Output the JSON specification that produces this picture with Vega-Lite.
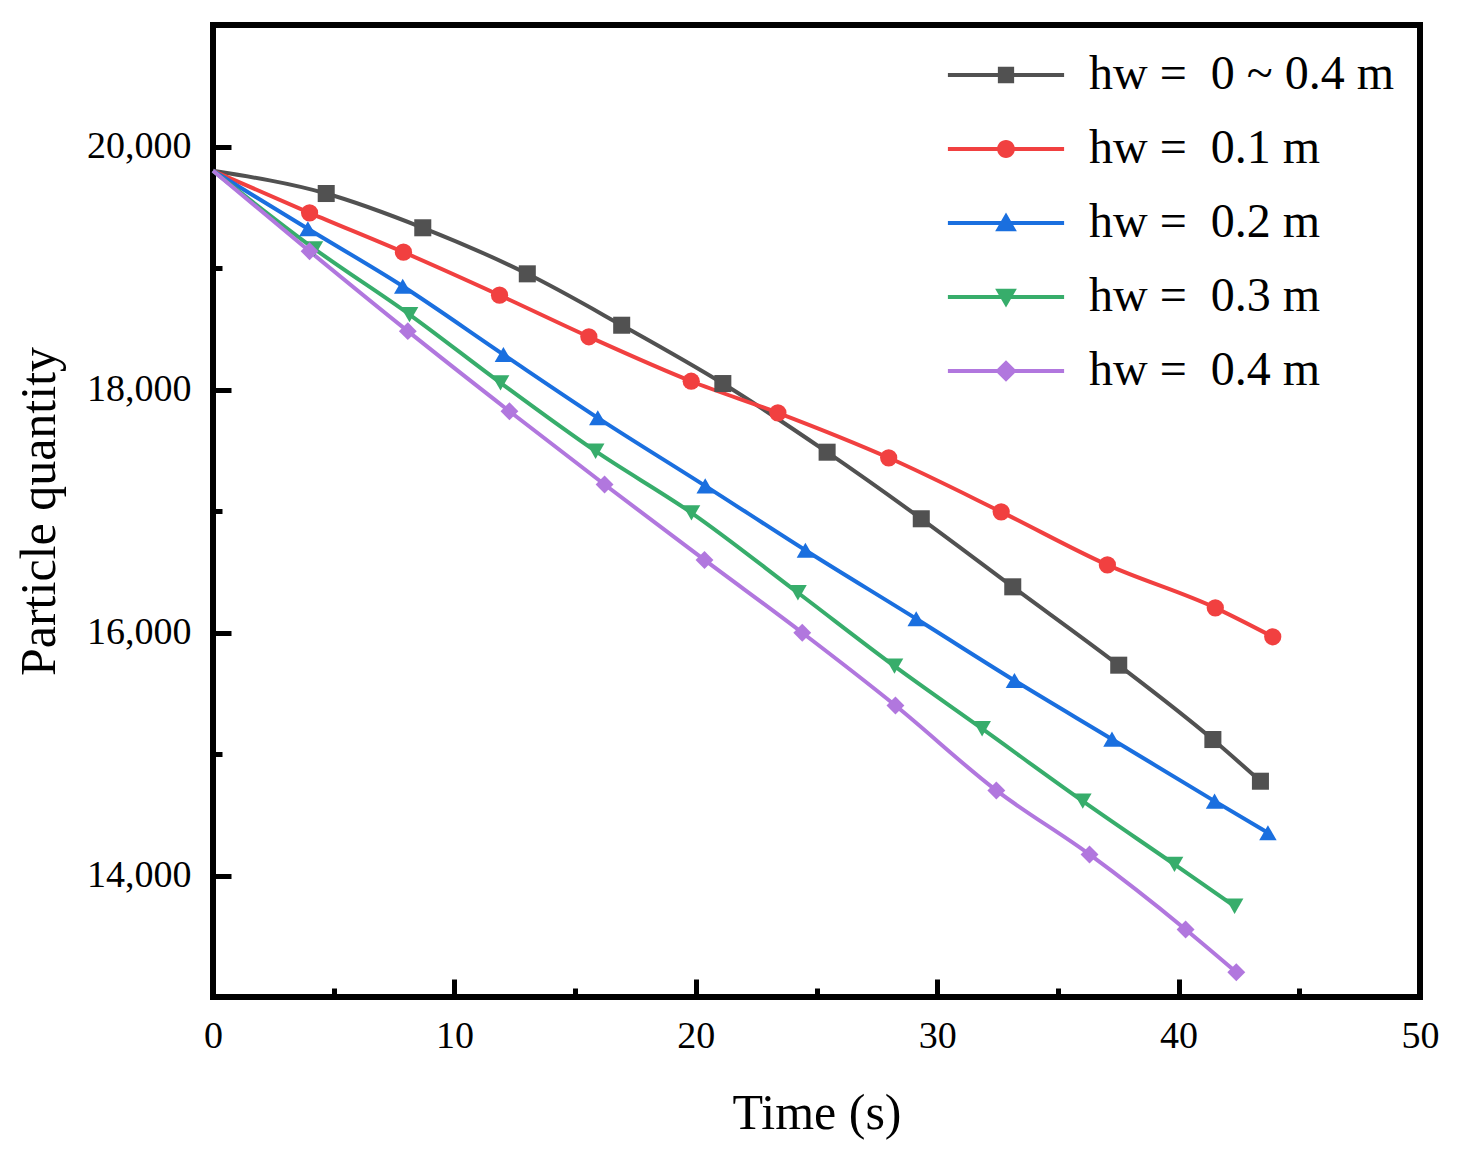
{
  "$schema": "https://vega.github.io/schema/vega-lite/v6.json",
  "width": 1207,
  "height": 972,
  "autosize": "none",
  "padding": {"left": 213, "top": 25, "right": 40, "bottom": 177},
  "background": "white",
  "config": {
    "font": "Liberation Serif",
    "view": {"stroke": "black", "strokeWidth": 6},
    "axis": {"domain": false, "grid": false, "labelFont": "Liberation Serif", "titleFont": "Liberation Serif", "labelColor": "black", "titleColor": "black", "tickColor": "black", "titleFontWeight": "normal"}
  },
  "data": {
    "values": [
      {"s": "0 ~ 0.4", "t": 0, "n": 19800},
      {"s": "0 ~ 0.4", "t": 4.69, "n": 19613},
      {"s": "0 ~ 0.4", "t": 8.69, "n": 19331},
      {"s": "0 ~ 0.4", "t": 13.02, "n": 18952},
      {"s": "0 ~ 0.4", "t": 16.93, "n": 18529},
      {"s": "0 ~ 0.4", "t": 21.12, "n": 18049},
      {"s": "0 ~ 0.4", "t": 25.44, "n": 17484},
      {"s": "0 ~ 0.4", "t": 29.34, "n": 16936},
      {"s": "0 ~ 0.4", "t": 33.13, "n": 16376},
      {"s": "0 ~ 0.4", "t": 37.52, "n": 15731},
      {"s": "0 ~ 0.4", "t": 41.42, "n": 15119},
      {"s": "0 ~ 0.4", "t": 43.39, "n": 14776},
      {"s": "0.1", "t": 0, "n": 19800},
      {"s": "0.1", "t": 4.0, "n": 19454},
      {"s": "0.1", "t": 7.89, "n": 19130},
      {"s": "0.1", "t": 11.87, "n": 18776},
      {"s": "0.1", "t": 15.57, "n": 18434},
      {"s": "0.1", "t": 19.81, "n": 18068},
      {"s": "0.1", "t": 23.4, "n": 17808},
      {"s": "0.1", "t": 27.99, "n": 17438},
      {"s": "0.1", "t": 32.65, "n": 16993},
      {"s": "0.1", "t": 37.05, "n": 16556},
      {"s": "0.1", "t": 41.52, "n": 16203},
      {"s": "0.1", "t": 43.9, "n": 15965},
      {"s": "0.2", "t": 0, "n": 19800},
      {"s": "0.2", "t": 3.93, "n": 19323},
      {"s": "0.2", "t": 7.86, "n": 18850},
      {"s": "0.2", "t": 12.03, "n": 18288},
      {"s": "0.2", "t": 15.94, "n": 17767},
      {"s": "0.2", "t": 20.39, "n": 17207},
      {"s": "0.2", "t": 24.54, "n": 16677},
      {"s": "0.2", "t": 29.13, "n": 16113},
      {"s": "0.2", "t": 33.2, "n": 15605},
      {"s": "0.2", "t": 37.24, "n": 15122},
      {"s": "0.2", "t": 41.49, "n": 14612},
      {"s": "0.2", "t": 43.7, "n": 14352},
      {"s": "0.3", "t": 0, "n": 19800},
      {"s": "0.3", "t": 4.2, "n": 19158},
      {"s": "0.3", "t": 8.14, "n": 18617},
      {"s": "0.3", "t": 11.91, "n": 18055},
      {"s": "0.3", "t": 15.85, "n": 17492},
      {"s": "0.3", "t": 19.82, "n": 16985},
      {"s": "0.3", "t": 24.23, "n": 16327},
      {"s": "0.3", "t": 28.23, "n": 15723},
      {"s": "0.3", "t": 31.86, "n": 15208},
      {"s": "0.3", "t": 36.03, "n": 14612},
      {"s": "0.3", "t": 39.83, "n": 14091},
      {"s": "0.3", "t": 42.32, "n": 13747},
      {"s": "0.4", "t": 0, "n": 19800},
      {"s": "0.4", "t": 4.0, "n": 19138},
      {"s": "0.4", "t": 8.07, "n": 18480},
      {"s": "0.4", "t": 12.28, "n": 17821},
      {"s": "0.4", "t": 16.22, "n": 17218},
      {"s": "0.4", "t": 20.36, "n": 16597},
      {"s": "0.4", "t": 24.41, "n": 15998},
      {"s": "0.4", "t": 28.27, "n": 15399},
      {"s": "0.4", "t": 32.45, "n": 14700},
      {"s": "0.4", "t": 36.31, "n": 14173},
      {"s": "0.4", "t": 40.29, "n": 13556},
      {"s": "0.4", "t": 42.39, "n": 13204}
    ]
  },
  "encoding": {
    "x": {
      "field": "t",
      "type": "quantitative",
      "scale": {"domain": [0, 50], "nice": false, "zero": false},
      "axis": {
        "title": "Time (s)",
        "titleFontSize": 50,
        "titlePadding": 24,
        "values": [0, 5, 10, 15, 20, 25, 30, 35, 40, 45, 50],
        "labelExpr": "datum.value % 10 === 0 ? datum.label : ''",
        "labelFontSize": 38,
        "labelFlush": false,
        "labelOverlap": false,
        "labelPadding": 38,
        "tickWidth": 5,
        "tickSize": {"condition": {"test": "datum.value % 10 === 0", "value": -18}, "value": -9}
      }
    },
    "y": {
      "field": "n",
      "type": "quantitative",
      "scale": {"domain": [13000, 21000], "nice": false, "zero": false},
      "axis": {
        "title": "Particle quantity",
        "titleFontSize": 50,
        "titlePadding": 22,
        "values": [14000, 15000, 16000, 17000, 18000, 19000, 20000],
        "format": ",d",
        "labelExpr": "datum.value % 2000 === 0 ? datum.label : ''",
        "labelFontSize": 38,
        "labelFlush": false,
        "labelOverlap": false,
        "labelPadding": 40,
        "tickWidth": 5,
        "tickSize": {"condition": {"test": "datum.value % 2000 === 0", "value": -18}, "value": -9}
      }
    },
    "color": {
      "field": "s",
      "type": "nominal",
      "scale": {
        "domain": ["0 ~ 0.4", "0.1", "0.2", "0.3", "0.4"],
        "range": ["#515151", "#F14040", "#1A6FDF", "#37AD6B", "#B177DE"]
      },
      "legend": null
    }
  },
  "layer": [
    {
      "mark": {"type": "line", "interpolate": "monotone", "strokeWidth": 4}
    },
    {
      "transform": [{"filter": "datum.t > 0"}],
      "mark": {"type": "point", "filled": true, "opacity": 1},
      "encoding": {
        "shape": {
          "field": "s",
          "type": "nominal",
          "scale": {
            "domain": ["0 ~ 0.4", "0.1", "0.2", "0.3", "0.4"],
            "range": ["square", "circle", "triangle-up", "triangle-down", "diamond"]
          },
          "legend": null
        },
        "size": {
          "field": "s",
          "type": "ordinal",
          "scale": {
            "domain": ["0 ~ 0.4", "0.1", "0.2", "0.3", "0.4"],
            "range": [290, 320, 420, 420, 420]
          },
          "legend": null
        }
      }
    },
    {
      "transform": [{"filter": "datum.t === 0"}],
      "mark": {"type": "point", "filled": true, "opacity": 0, "size": 1500},
      "encoding": {
        "shape": {
          "field": "s",
          "type": "nominal",
          "scale": {
            "domain": ["0 ~ 0.4", "0.1", "0.2", "0.3", "0.4"],
            "range": [
              "M-3,-0.1H3V0.1H-3Z M-0.42,-0.42H0.42V0.42H-0.42Z",
              "M-3,-0.1H3V0.1H-3Z M0.46,0A0.46,0.46,0,1,1,-0.46,0A0.46,0.46,0,1,1,0.46,0Z",
              "M-3,-0.1H3V0.1H-3Z M0,-0.54L0.56,0.42L-0.56,0.42Z",
              "M-3,-0.1H3V0.1H-3Z M0,0.54L-0.56,-0.42L0.56,-0.42Z",
              "M-3,-0.1H3V0.1H-3Z M0,-0.56L0.56,0L0,0.56L-0.56,0Z"
            ]
          },
          "legend": {
            "title": null,
            "orient": "none",
            "legendX": 769,
            "legendY": 26,
            "padding": 0,
            "symbolSize": 1500,
            "symbolOpacity": 1,
            "symbolStrokeWidth": 0,
            "symbolFillColor": {"expr": "datum.value === '0.1' ? '#F14040' : datum.value === '0.2' ? '#1A6FDF' : datum.value === '0.3' ? '#37AD6B' : datum.value === '0.4' ? '#B177DE' : '#515151'"},
            "labelFont": "Liberation Serif",
            "labelFontSize": 48,
            "labelColor": "black",
            "labelOffset": 59,
            "labelLimit": 0,
            "rowPadding": 26,
            "labelExpr": "'hw =\u00a0\u00a0' + datum.label + ' m'"
          }
        }
      }
    }
  ],
  "resolve": {"scale": {"shape": "independent", "size": "independent"}}
}
